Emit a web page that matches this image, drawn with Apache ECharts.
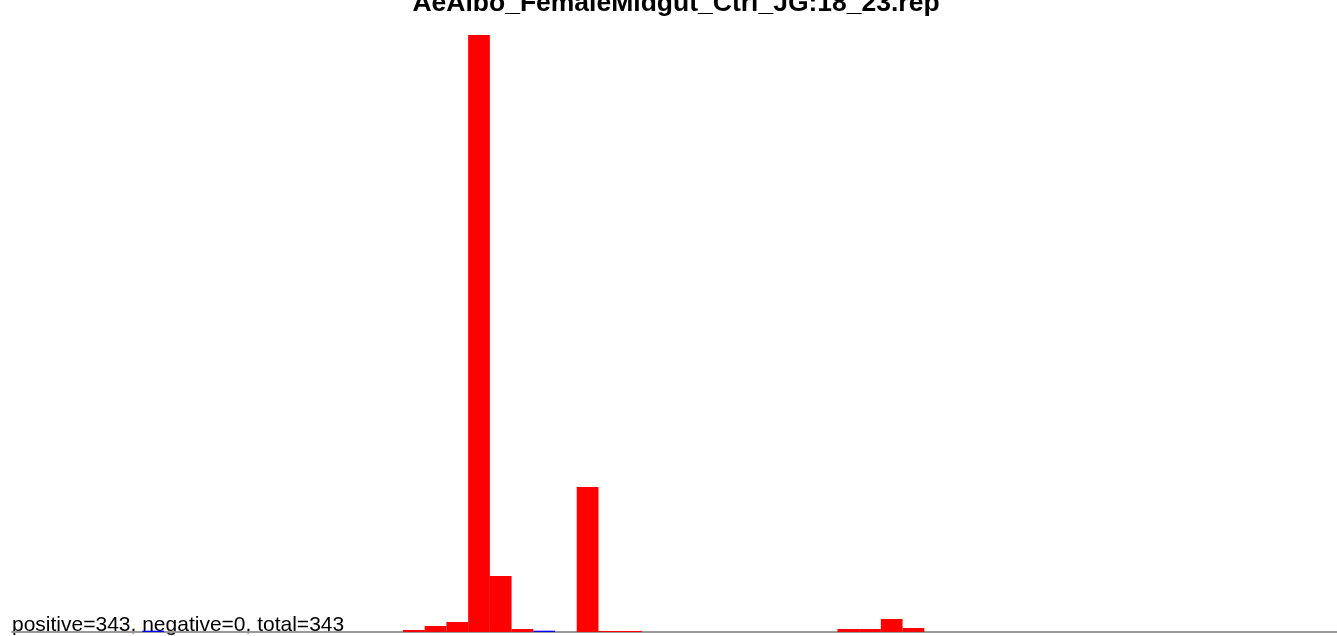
<!DOCTYPE html>
<html>
<head>
<meta charset="utf-8">
<script src="https://cdn.jsdelivr.net/npm/echarts@6/dist/echarts.min.js"></script>
<style>html,body{margin:0;padding:0;background:#fff}#c{width:1337px;height:636px}</style>
</head>
<body>
<div id="c"></div>
<script>
const titleText = "AeAlbo_FemaleMidgut_Ctrl_JG:18_23.rep";
const statsText = "positive=343, negative=0, total=343";
const binCount = 61;
const bins = Array.from({length: binCount}, (_, i) => String(i));
// positive bar heights per bin (estimated)
const positiveBins = {18: 2, 19: 6, 20: 10, 21: 597, 22: 56, 23: 3, 26: 145, 27: 1, 28: 1, 38: 3, 39: 3, 40: 13, 41: 4};
// thin blue marks at baseline
const blueBins = {6: 1.3, 19: 1.3, 24: 1.3};
const positiveValues = bins.map((b, i) => positiveBins[i] || 0);
const blueValues = bins.map((b, i) => blueBins[i] || 0);

const chart = echarts.init(document.getElementById('c'));
chart.setOption({
  animation: false,
  grid: {left: 12, right: 0, top: 35, bottom: 4},
  xAxis: {
    type: 'category', data: bins, boundaryGap: true,
    axisLine: {show: true, lineStyle: {color: '#999', width: 2}},
    axisTick: {show: false}, axisLabel: {show: false}
  },
  yAxis: {
    type: 'value', min: 0, max: 597,
    axisLine: {show: false}, axisTick: {show: false}, axisLabel: {show: false}, splitLine: {show: false}
  },
  series: [
    {type: 'bar', data: positiveValues, barWidth: '100%', barGap: '-100%', itemStyle: {color: '#ff0000'}, z: 3},
    {type: 'bar', data: blueValues, barWidth: '100%', barGap: '-100%', itemStyle: {color: '#0000ff'}, z: 2}
  ],
  graphic: [{
    type: 'text', x: 676, y: 17,
    style: {text: titleText, font: 'bold 26.5px "Liberation Sans", Arial', fill: '#000', textAlign: 'center', textVerticalAlign: 'bottom'}
  }, {
    type: 'text', x: 12, y: 636,
    style: {text: statsText, font: '21px "Liberation Sans", Arial', fill: '#000', textAlign: 'left', textVerticalAlign: 'bottom'}
  }]
});
</script>
</body>
</html>
